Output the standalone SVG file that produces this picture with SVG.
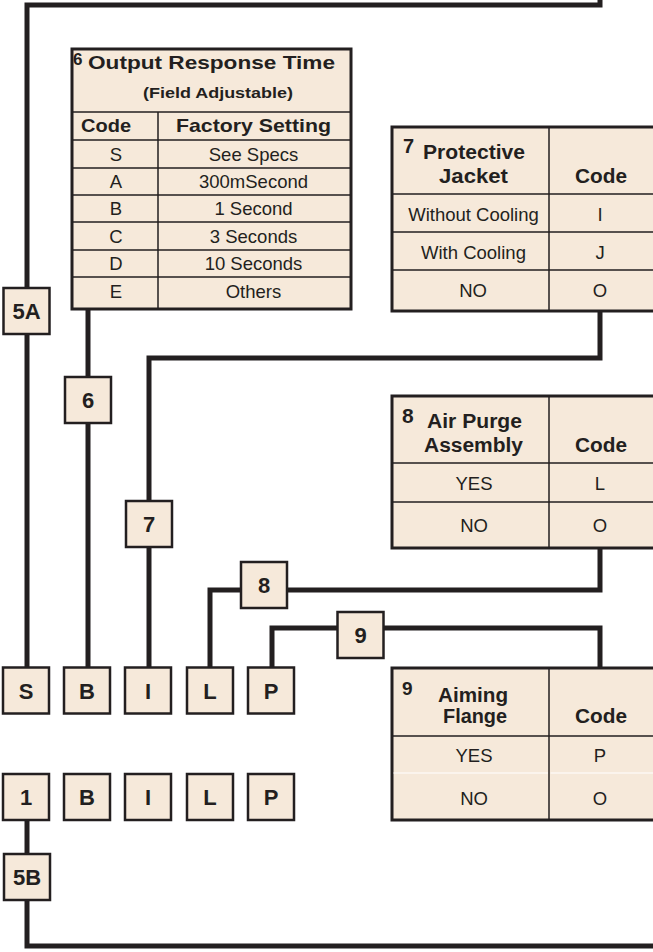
<svg xmlns="http://www.w3.org/2000/svg" width="653" height="952" viewBox="0 0 653 952">
<style>
.bg{fill:#ffffff}
.box{fill:#f6e9da;stroke:#231f20;stroke-width:2.5}
.tbl{fill:#f6e9da;stroke:#231f20;stroke-width:3}
.grid{stroke:#231f20;stroke-width:1.5;fill:none}
.wgrid{stroke:#ffffff;stroke-width:1.2;fill:none}
.wire{fill:none;stroke:#231f20;stroke-width:5;stroke-linejoin:miter;stroke-linecap:butt}
.lbl{font-family:"Liberation Sans",Arial,sans-serif;font-weight:bold;font-size:22px;fill:#231f20;text-anchor:middle}
.hd{font-family:"Liberation Sans",Arial,sans-serif;font-weight:bold;font-size:20px;fill:#231f20;text-anchor:middle}
.num{font-family:"Liberation Sans",Arial,sans-serif;font-weight:bold;fill:#231f20}
.cell{font-family:"Liberation Sans",Arial,sans-serif;font-size:18.5px;fill:#231f20;text-anchor:middle}
</style>
<rect class="bg" x="0" y="0" width="653" height="952"/>

<g id="connectors">
<path class="wire" d="M600,0 V5 H27 V288"/>
<path class="wire" d="M27,334 V667"/>
<path class="wire" d="M88,309 V377"/>
<path class="wire" d="M88,423 V667"/>
<path class="wire" d="M600,311 V358 H149 V500"/>
<path class="wire" d="M149,547 V667"/>
<path class="wire" d="M600,548 V590 H287"/>
<path class="wire" d="M241,590 H210 V667"/>
<path class="wire" d="M272,667 V628 H337"/>
<path class="wire" d="M384,628 H600 V668"/>
<path class="wire" d="M27,820 V854"/>
<path class="wire" d="M27,900 V946 H660"/>
</g>

<g id="table6">
<rect class="tbl" x="72" y="49" width="279" height="260"/>
<path class="grid" d="M72,112 H351 M72,140 H351 M72,168 H351 M72,195 H351 M72,222 H351 M72,250 H351 M72,277 H351 M158,112 V309"/>
<text class="num" x="73" y="65" font-size="17">6</text>
<text class="num" x="88" y="69" font-size="19" textLength="247" lengthAdjust="spacingAndGlyphs">Output Response Time</text>
<text class="num" x="143" y="98" font-size="15" textLength="150" lengthAdjust="spacingAndGlyphs">(Field Adjustable)</text>
<text class="num" x="81" y="132" font-size="19" textLength="50" lengthAdjust="spacingAndGlyphs">Code</text>
<text class="num" x="176" y="132" font-size="19" textLength="155" lengthAdjust="spacingAndGlyphs">Factory Setting</text>
<text class="cell" x="116" y="161">S</text><text class="cell" x="253.5" y="161">See Specs</text>
<text class="cell" x="116" y="188">A</text><text class="cell" x="253.5" y="188">300mSecond</text>
<text class="cell" x="116" y="215">B</text><text class="cell" x="253.5" y="215">1 Second</text>
<text class="cell" x="116" y="243">C</text><text class="cell" x="253.5" y="243">3 Seconds</text>
<text class="cell" x="116" y="270">D</text><text class="cell" x="253.5" y="270">10 Seconds</text>
<text class="cell" x="116" y="298">E</text><text class="cell" x="253.5" y="298">Others</text>
</g>

<g id="table7">
<rect class="tbl" x="392" y="127" width="266" height="184"/>
<path class="grid" d="M392,194 H660 M392,232 H660 M392,270 H660 M549,127 V311"/>
<text class="num" x="403" y="153" font-size="20">7</text>
<text class="hd" x="474" y="159" textLength="102" lengthAdjust="spacingAndGlyphs">Protective</text>
<text class="hd" x="473.5" y="183" textLength="69" lengthAdjust="spacingAndGlyphs">Jacket</text>
<text class="hd" x="601" y="183" textLength="52" lengthAdjust="spacingAndGlyphs">Code</text>
<text class="cell" x="473.5" y="221">Without Cooling</text><text class="cell" x="600" y="221">I</text>
<text class="cell" x="473.5" y="259">With Cooling</text><text class="cell" x="600" y="259">J</text>
<text class="cell" x="473" y="297">NO</text><text class="cell" x="600" y="297">O</text>
</g>

<g id="table8">
<rect class="tbl" x="392" y="396" width="266" height="152"/>
<path class="grid" d="M392,463 H660 M392,502 H660 M549,396 V548"/>
<text class="num" x="402" y="423" font-size="21">8</text>
<text class="hd" x="474.5" y="428" textLength="95" lengthAdjust="spacingAndGlyphs">Air Purge</text>
<text class="hd" x="473.5" y="452" textLength="99" lengthAdjust="spacingAndGlyphs">Assembly</text>
<text class="hd" x="601" y="452" textLength="52" lengthAdjust="spacingAndGlyphs">Code</text>
<text class="cell" x="474" y="490">YES</text><text class="cell" x="600" y="490">L</text>
<text class="cell" x="474" y="532">NO</text><text class="cell" x="600" y="532">O</text>
</g>

<g id="table9">
<rect class="tbl" x="392" y="668" width="266" height="152"/>
<path class="grid" d="M392,736 H660 M549,668 V820"/>
<path class="wgrid" d="M393.5,773 H548 M550.5,773 H660"/>
<text class="num" x="402" y="695" font-size="19">9</text>
<text class="hd" x="473" y="702" textLength="70" lengthAdjust="spacingAndGlyphs">Aiming</text>
<text class="hd" x="475" y="723" textLength="64" lengthAdjust="spacingAndGlyphs">Flange</text>
<text class="hd" x="601" y="723" textLength="52" lengthAdjust="spacingAndGlyphs">Code</text>
<text class="cell" x="474" y="762">YES</text><text class="cell" x="600" y="762">P</text>
<text class="cell" x="474" y="805">NO</text><text class="cell" x="600" y="805">O</text>
</g>

<g id="box5A"><rect class="box" x="3.5" y="288" width="46" height="46"/><text class="lbl" x="26.5" y="319">5A</text></g>
<g id="box6"><rect class="box" x="65" y="377" width="46" height="46"/><text class="lbl" x="88" y="408">6</text></g>
<g id="box7"><rect class="box" x="126" y="501" width="46" height="46"/><text class="lbl" x="149" y="532">7</text></g>
<g id="box8"><rect class="box" x="241" y="562" width="46" height="46"/><text class="lbl" x="264" y="593">8</text></g>
<g id="box9"><rect class="box" x="337.5" y="612" width="46" height="46"/><text class="lbl" x="360.5" y="643">9</text></g>

<g id="rowS"><rect class="box" x="3" y="667.5" width="46" height="46"/><text class="lbl" x="26" y="699">S</text></g>
<g id="rowB"><rect class="box" x="64" y="667.5" width="46" height="46"/><text class="lbl" x="87" y="699">B</text></g>
<g id="rowI"><rect class="box" x="125" y="667.5" width="46" height="46"/><text class="lbl" x="148" y="699">I</text></g>
<g id="rowL"><rect class="box" x="187" y="667.5" width="46" height="46"/><text class="lbl" x="210" y="699">L</text></g>
<g id="rowP"><rect class="box" x="248" y="667.5" width="46" height="46"/><text class="lbl" x="271" y="699">P</text></g>

<g id="row2-1"><rect class="box" x="3" y="774" width="46" height="46"/><text class="lbl" x="26" y="805">1</text></g>
<g id="row2-B"><rect class="box" x="64" y="774" width="46" height="46"/><text class="lbl" x="87" y="805">B</text></g>
<g id="row2-I"><rect class="box" x="125" y="774" width="46" height="46"/><text class="lbl" x="148" y="805">I</text></g>
<g id="row2-L"><rect class="box" x="187" y="774" width="46" height="46"/><text class="lbl" x="210" y="805">L</text></g>
<g id="row2-P"><rect class="box" x="248" y="774" width="46" height="46"/><text class="lbl" x="271" y="805">P</text></g>

<g id="box5B"><rect class="box" x="4" y="854" width="46" height="46"/><text class="lbl" x="27" y="885">5B</text></g>
</svg>
